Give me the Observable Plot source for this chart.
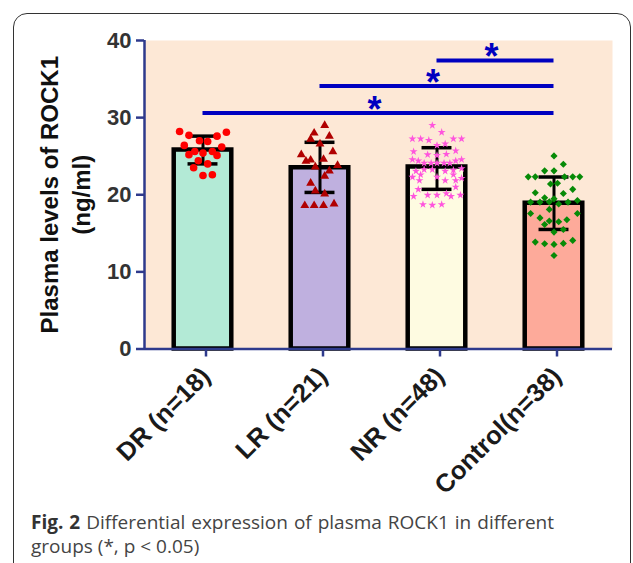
<!DOCTYPE html>
<html>
<head>
<meta charset="utf-8">
<script src="https://cdn.jsdelivr.net/npm/d3@7"></script>
<script src="https://cdn.jsdelivr.net/npm/@observablehq/plot@0.6"></script>
<style>
  html, body { margin: 0; padding: 0; overflow: hidden; background: #fff; width: 633px; height: 563px; }
  #frame { position: absolute; left: 13px; top: 13px; width: 616px; height: 700px; border: 1.5px solid #333; border-radius: 14px; }
  #chart { position: absolute; left: 0; top: 0; }
  .cap { position: absolute; left: 31px; width: 523px; font-family: "Open Sans", sans-serif; font-size: 19px; line-height: 24px; color: #444; white-space: nowrap; }
  #cap1 { top: 510px; text-align: justify; text-align-last: justify; }
  #cap2 { top: 534px; text-align: left; }
  .cap b { color: #333; }
</style>
</head>
<body>
<div id="frame"></div>
<div id="chart"></div>
<div class="cap" id="cap1"><b>Fig. 2</b> Differential expression of plasma ROCK1 in different</div>
<div class="cap" id="cap2">groups (*, p&nbsp;&lt;&nbsp;0.05)</div>
<script>
const categories = ["DR (n=18)", "LR (n=21)", "NR (n=48)", "Control(n=38)"];
const means = [25.8, 23.5, 23.6, 18.9];
const sdLow = [24.0, 20.3, 20.7, 15.5];
const sdHigh = [27.6, 26.8, 26.1, 22.3];
const yTicks = [0, 10, 20, 30, 40];

// individual points: value and horizontal spread within the column (in category widths)
const drValues = [28.2, 27.7, 27.6, 28.1, 26.4, 27.0, 26.9, 26.2, 25.2, 25.6, 25.4, 25.6, 25.1, 24.4, 24.0, 23.5, 22.5, 22.6];
const drSpread = [-0.20, -0.12, 0.12, 0.20, -0.16, -0.03, 0.04, 0.16, -0.12, -0.07, 0, 0.08, 0.12, -0.04, 0.04, -0.08, 0, 0.08];

const lrValues = [29.0, 28.0, 27.6, 27.2, 26.6, 25.2, 25.6, 24.35, 24.5, 24.6, 23.6, 23.8, 23.1, 22.4, 21.5, 20.5, 20.1, 18.6, 18.6, 18.6, 18.8];
const lrSpread = [0.04, -0.05, 0.08, -0.08, 0, -0.16, 0.11, -0.12, -0.08, 0.03, -0.04, 0.15, 0.08, 0.04, -0.08, -0.04, 0.04, -0.13, -0.05, 0.03, 0.12];

const nrValues = [29.0, 28.1,
  27.25, 27.25, 27.07, 27.25, 27.25,
  26.4, 26.6,
  25.6, 25.7,
  25.2, 25.1, 25.26,
  24.57, 24.4, 24.1, 24.1, 24.1, 24.1, 24.1, 24.4, 24.57,
  23.06, 23.27, 23.27, 23.06, 23.2, 23.4,
  22.28, 22.6, 22.3, 22.6, 22.15,
  21.85, 21.85, 21.85,
  20.7, 21.0,
  19.8, 19.95, 19.95, 20.16, 19.8, 19.95,
  18.74, 18.65, 18.74];
const nrSpread = [-0.04, 0.04,
  -0.21, -0.14, -0.07, 0.14, 0.21,
  0, 0.07,
  -0.20, 0.16,
  -0.08, 0, 0.08,
  -0.21, -0.16, -0.11, -0.05, 0, 0.06, 0.11, 0.16, 0.21,
  -0.18, -0.11, -0.04, 0.07, 0.14, 0.21,
  -0.21, -0.14, 0, 0.14, 0.21,
  -0.15, 0.07, 0.16,
  -0.16, 0.16,
  -0.20, -0.08, 0, 0.08, 0.12, 0.20,
  -0.12, -0.04, 0.04];

const ctlValues = [25.04, 23.96, 23.1, 23.1, 22.32, 22.32, 22.32, 22.32, 22.32, 21.4, 21.5, 20.25, 20.16, 20.7, 19.6, 19.47,
  19.04, 19.04, 19.08, 18.8, 19.04, 19.26, 17.57, 17.0, 18.1, 17.57, 16.15, 16.6, 16.5, 16.75, 15.16, 15.5,
  13.86, 13.64, 13.56, 13.69, 14.08, 12.13];
const ctlSpread = [0, 0.08, -0.08, 0, -0.22, -0.16, 0.09, 0.16, 0.22, -0.03, 0.03, -0.16, 0.08, 0.16, -0.08, 0,
  -0.20, -0.12, -0.04, 0.04, 0.12, 0.20, -0.20, -0.12, -0.04, 0.20, -0.08, -0.04, 0.04, 0.11, 0, 0.08,
  -0.16, -0.08, 0, 0.08, 0.16, 0];

// significance brackets (from group index to Control)
const sigFrom = [0, 1, 2];
const sigTo = [3, 3, 3];
const sigY = [30.6, 34.1, 37.4];
const sigLabel = ["*", "*", "*"];

const navy = "#2e3a8c";
const barFills = ["#b3ead6", "#bfb0df", "#fefbe1", "#fdaa9a"];

const bars = categories.map((c, i) => ({i, mean: means[i], lo: sdLow[i], hi: sdHigh[i], fill: barFills[i]}));
const pts = (vals, spread, g) => vals.map((v, k) => ({x: g + spread[k], y: v}));
const sigs = sigFrom.map((f, k) => ({from: f, to: sigTo[k], y: sigY[k], mid: (f + sigTo[k]) / 2, label: sigLabel[k]}));

const halfBar = 0.246;
const halfCap = 0.128;

const plot = Plot.plot({
  width: 633,
  height: 500,
  marginLeft: 144,
  marginRight: 21,
  marginTop: 40,
  marginBottom: 151.5,
  style: {fontFamily: "'Liberation Sans', Arial, sans-serif", background: "transparent", overflow: "visible"},
  x: {type: "linear", domain: [-0.5, 3.5]},
  y: {domain: [0, 40]},
  marks: [
    Plot.frame({fill: "#fde8d6", stroke: null}),
    Plot.rectY(bars, {x1: d => d.i - halfBar, x2: d => d.i + halfBar, y1: 0, y2: "mean", fill: "fill", stroke: "#000", strokeWidth: 4.5}),
    Plot.ruleX(bars, {x: "i", y1: "lo", y2: "hi", stroke: "#000", strokeWidth: 3}),
    Plot.ruleY(bars, {y: "hi", x1: d => d.i - halfCap, x2: d => d.i + halfCap, stroke: "#000", strokeWidth: 3.5}),
    Plot.ruleY(bars, {y: "lo", x1: d => d.i - halfCap, x2: d => d.i + halfCap, stroke: "#000", strokeWidth: 3.5}),
    Plot.dot(pts(drValues, drSpread, 0), {x: "x", y: "y", r: 3.8, symbol: "circle", fill: "#ff0000", stroke: "none"}),
    Plot.dot(pts(lrValues, lrSpread, 1), {x: "x", y: "y", r: 3.3, symbol: "triangle", fill: "#b00000", stroke: "none"}),
    Plot.dot(pts(nrValues, nrSpread, 2), {x: "x", y: "y", r: 2.5, symbol: "star", fill: "#ff55dd", stroke: "none"}),
    Plot.dot(pts(ctlValues, ctlSpread, 3), {x: "x", y: "y", r: 3.2, symbol: "diamond2", fill: "#078a07", stroke: "none"}),
    Plot.ruleY(sigs, {y: "y", x1: "from", x2: "to", stroke: "#0000c0", strokeWidth: 4}),
    Plot.text(sigs, {x: "mid", y: "y", text: "label", dx: -4, dy: -3, fontSize: 36, fontWeight: "bold", fill: "#0000c0"}),
    Plot.axisY({ticks: yTicks, tickSize: 8, tickPadding: 5, stroke: navy, strokeWidth: 2.5, fill: "#333", fontSize: 22, fontWeight: "bold", label: null}),
    Plot.axisX({ticks: [0, 1, 2, 3], tickFormat: i => categories[i], tickRotate: -45, tickSize: 8, tickPadding: 15, dx: 3, stroke: navy, strokeWidth: 2.5, fill: "#1a1a1a", fontSize: 25.5, fontWeight: "bold", label: null}),
    Plot.ruleX([-0.5], {y1: 0, y2: 40, stroke: navy, strokeWidth: 2.5}),
    Plot.ruleY([0], {x1: -0.5, x2: 3.5, stroke: navy, strokeWidth: 2.5}),
    Plot.text(["Plasma levels of ROCK1\n(ng/ml)"], {frameAnchor: "left", textAnchor: "middle", rotate: -90, dx: -81, fontSize: 24, fontWeight: "bold", lineHeight: 1.35, fill: "#111"})
  ]
});
document.getElementById("chart").appendChild(plot);
</script>
</body>
</html>
